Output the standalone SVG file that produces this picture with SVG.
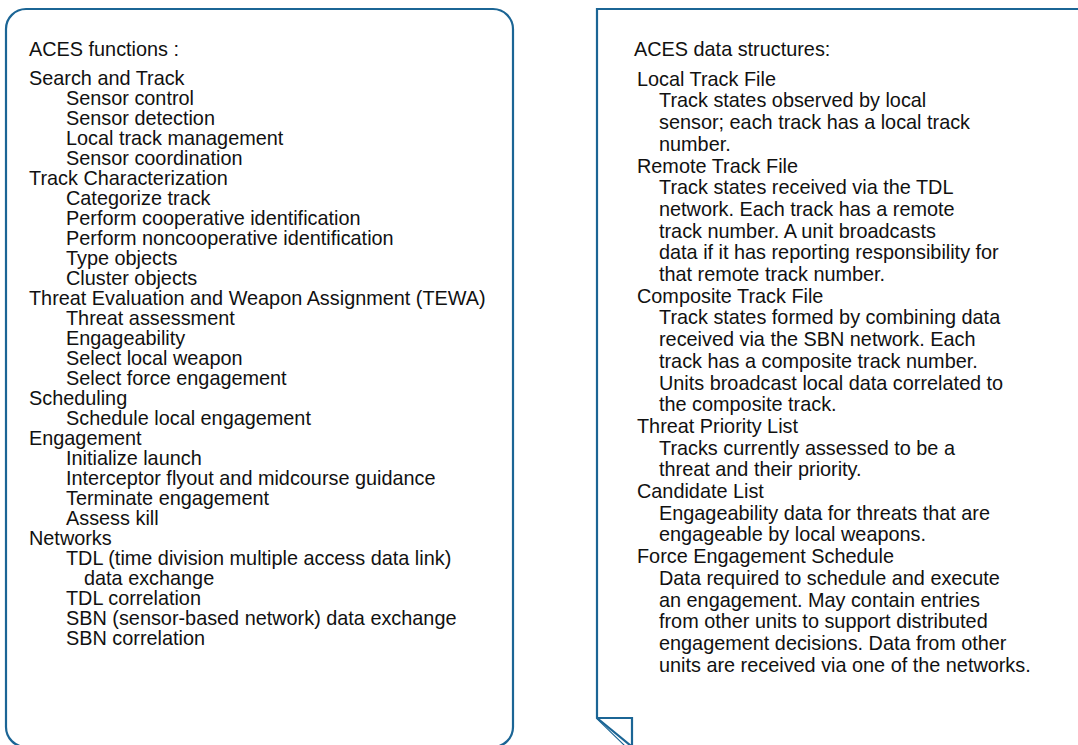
<svg xmlns="http://www.w3.org/2000/svg" width="1078" height="745" viewBox="0 0 1078 745">
<style>
.box{fill:#ffffff;stroke:#1b6595;stroke-width:2.2}
.t{font-family:"Liberation Sans",Arial,Helvetica,sans-serif;font-size:19.85px;fill:#111111}
</style>
<rect width="1078" height="745" fill="#ffffff"/>
<g id="functions">
<rect class="box" x="6" y="9" width="507" height="738" rx="20" ry="20"/>
<text class="t">
<tspan x="29" y="56">ACES functions :</tspan>
<tspan x="29" y="85">Search and Track</tspan>
<tspan x="66" y="105">Sensor control</tspan>
<tspan x="66" y="125">Sensor detection</tspan>
<tspan x="66" y="145">Local track management</tspan>
<tspan x="66" y="165">Sensor coordination</tspan>
<tspan x="29" y="185">Track Characterization</tspan>
<tspan x="66" y="205">Categorize track</tspan>
<tspan x="66" y="225">Perform cooperative identification</tspan>
<tspan x="66" y="245">Perform noncooperative identification</tspan>
<tspan x="66" y="265">Type objects</tspan>
<tspan x="66" y="285">Cluster objects</tspan>
<tspan x="29" y="305">Threat Evaluation and Weapon Assignment (TEWA)</tspan>
<tspan x="66" y="325">Threat assessment</tspan>
<tspan x="66" y="345">Engageability</tspan>
<tspan x="66" y="365">Select local weapon</tspan>
<tspan x="66" y="385">Select force engagement</tspan>
<tspan x="29" y="405">Scheduling</tspan>
<tspan x="66" y="425">Schedule local engagement</tspan>
<tspan x="29" y="445">Engagement</tspan>
<tspan x="66" y="465">Initialize launch</tspan>
<tspan x="66" y="485">Interceptor flyout and midcourse guidance</tspan>
<tspan x="66" y="505">Terminate engagement</tspan>
<tspan x="66" y="525">Assess kill</tspan>
<tspan x="29" y="545">Networks</tspan>
<tspan x="66" y="565">TDL (time division multiple access data link)</tspan>
<tspan x="84" y="585">data exchange</tspan>
<tspan x="66" y="605">TDL correlation</tspan>
<tspan x="66" y="625">SBN (sensor-based network) data exchange</tspan>
<tspan x="66" y="645">SBN correlation</tspan>
</text>
</g>
<g id="data-structures">
<path class="box" d="M597,718 L597,9 L1082,9 L1082,752 L632,752 Z"/>
<path class="box" d="M597,718 L632,718 L632,752 M597,718 L636,750" fill="none"/>
<text class="t">
<tspan x="634" y="56">ACES data structures:</tspan>
<tspan x="637" y="85.7">Local Track File</tspan>
<tspan x="659" y="107.4">Track states observed by local</tspan>
<tspan x="659" y="129.1">sensor; each track has a local track</tspan>
<tspan x="659" y="150.8">number.</tspan>
<tspan x="637" y="172.5">Remote Track File</tspan>
<tspan x="659" y="194.2">Track states received via the TDL</tspan>
<tspan x="659" y="215.9">network. Each track has a remote</tspan>
<tspan x="659" y="237.6">track number. A unit broadcasts</tspan>
<tspan x="659" y="259.3">data if it has reporting responsibility for</tspan>
<tspan x="659" y="281">that remote track number.</tspan>
<tspan x="637" y="302.7">Composite Track File</tspan>
<tspan x="659" y="324.4">Track states formed by combining data</tspan>
<tspan x="659" y="346.1">received via the SBN network. Each</tspan>
<tspan x="659" y="367.8">track has a composite track number.</tspan>
<tspan x="659" y="389.5">Units broadcast local data correlated to</tspan>
<tspan x="659" y="411.2">the composite track.</tspan>
<tspan x="637" y="432.9">Threat Priority List</tspan>
<tspan x="659" y="454.6">Tracks currently assessed to be a</tspan>
<tspan x="659" y="476.3">threat and their priority.</tspan>
<tspan x="637" y="498">Candidate List</tspan>
<tspan x="659" y="519.7">Engageability data for threats that are</tspan>
<tspan x="659" y="541.4">engageable by local weapons.</tspan>
<tspan x="637" y="563.1">Force Engagement Schedule</tspan>
<tspan x="659" y="584.8">Data required to schedule and execute</tspan>
<tspan x="659" y="606.5">an engagement. May contain entries</tspan>
<tspan x="659" y="628.2">from other units to support distributed</tspan>
<tspan x="659" y="649.9">engagement decisions. Data from other</tspan>
<tspan x="659" y="671.6">units are received via one of the networks.</tspan>
</text>
</g>
</svg>
